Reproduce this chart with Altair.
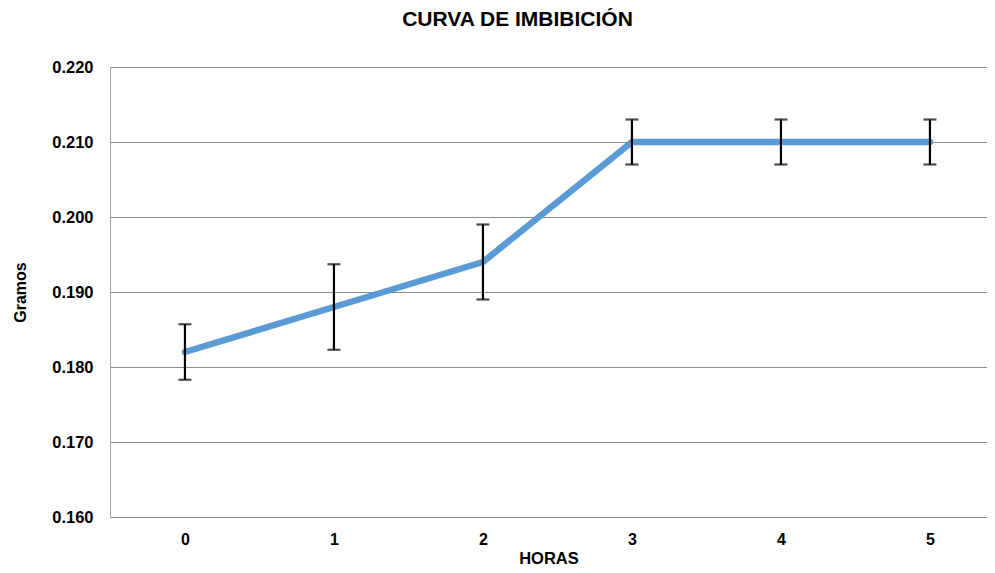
import altair as alt
import pandas as pd

horas = [0, 1, 2, 3, 4, 5]
gramos = [0.182, 0.188, 0.194, 0.210, 0.210, 0.210]
error = [0.0037, 0.0057, 0.0050, 0.0030, 0.0030, 0.0030]
y_ticks = [0.16, 0.17, 0.18, 0.19, 0.20, 0.21, 0.22]

df = pd.DataFrame({"h": horas, "g": gramos, "e": error})
df["lo"] = df["g"] - df["e"]
df["hi"] = df["g"] + df["e"]

FONT = "Liberation Sans"

xscale = alt.Scale(domain=[-0.503, 5.383], nice=False, zero=False)
yscale = alt.Scale(domain=[0.16, 0.22], nice=False, zero=False)

xaxis = alt.Axis(values=horas, format="d", title="HORAS", grid=False, ticks=False,
                 domain=True, domainColor="#8C8C8C", domainWidth=1,
                 labelFont=FONT, labelFontSize=16, labelFontWeight="bold", labelColor="#000",
                 labelPadding=14, titleFont=FONT, titleFontSize=16.5, titleFontWeight="bold",
                 titleColor="#000", titlePadding=3)
yaxis = alt.Axis(values=y_ticks, format=".3f", title="Gramos", grid=True, gridColor="#8C8C8C",
                 gridWidth=1, ticks=False, domain=True, domainColor="#A6A6A6", domainWidth=1,
                 labelFont=FONT, labelFontSize=16.5, labelFontWeight="bold", labelColor="#000",
                 labelPadding=17, titleFont=FONT, titleFontSize=16, titleFontWeight="bold",
                 titleColor="#000", titlePadding=23)

base = alt.Chart(df)

line = base.mark_line(strokeWidth=6.5, strokeCap="round", strokeJoin="round", color="#5B9BD5").encode(
    x=alt.X("h:Q", scale=xscale, axis=xaxis),
    y=alt.Y("g:Q", scale=yscale, axis=yaxis),
)

rule = base.mark_rule(color="#000", strokeWidth=2.2).encode(
    x=alt.X("h:Q", scale=xscale),
    y=alt.Y("lo:Q", scale=yscale),
    y2="hi:Q",
)

cap_lo = base.mark_tick(color="#000", orient="horizontal", size=13, thickness=2.2).encode(
    x=alt.X("h:Q", scale=xscale),
    y=alt.Y("lo:Q", scale=yscale),
)
cap_hi = base.mark_tick(color="#000", orient="horizontal", size=13, thickness=2.2).encode(
    x=alt.X("h:Q", scale=xscale),
    y=alt.Y("hi:Q", scale=yscale),
)

chart = alt.layer(line, rule, cap_lo, cap_hi).properties(
    width=877,
    height=450,
    autosize=alt.AutoSizeParams(type="none"),
    padding={"left": 102, "top": 59, "right": 0, "bottom": 48},
    title=alt.TitleParams("CURVA DE IMBIBICIÓN", font=FONT, fontSize=21, fontWeight="bold",
                          color="#000", anchor="middle", dx=-31, offset=29),
).configure_view(stroke=None).configure(background="white")

chart.save("out.html", embed_options={"renderer": "svg", "actions": False})
